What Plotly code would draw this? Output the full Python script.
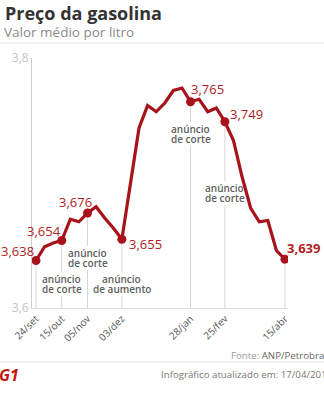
import pandas as pd
import plotly.graph_objects as go

# Weekly average gasoline price (R$/litre)
dates = ["2017-09-24", "2017-10-01", "2017-10-08", "2017-10-15", "2017-10-22",
         "2017-10-29", "2017-11-05", "2017-11-12", "2017-11-19", "2017-11-26",
         "2017-12-03", "2017-12-10", "2017-12-17", "2017-12-24", "2017-12-31",
         "2018-01-07", "2018-01-14", "2018-01-21", "2018-01-28", "2018-02-04",
         "2018-02-11", "2018-02-18", "2018-02-25", "2018-03-04", "2018-03-11",
         "2018-03-18", "2018-03-25", "2018-04-01", "2018-04-08", "2018-04-15"]
prices = [3.638, 3.649, 3.652, 3.654, 3.671,
          3.669, 3.676, 3.681, 3.672, 3.664,
          3.655, 3.700, 3.744, 3.762, 3.757,
          3.764, 3.774, 3.776, 3.765, 3.767,
          3.757, 3.760, 3.749, 3.734, 3.705,
          3.680, 3.669, 3.670, 3.646, 3.639]

# Highlighted weeks and their x tick labels
key_dates = ["2017-09-24", "2017-10-15", "2017-11-05", "2017-12-03",
             "2018-01-28", "2018-02-25", "2018-04-15"]
key_labels = ["24/set", "15/out", "05/nov", "03/dez", "28/jan", "25/fev", "15/abr"]

# Event notes (date, first line, second line)
event_dates = ["2017-10-15", "2017-11-05", "2017-12-03", "2018-01-28", "2018-02-25"]
event_line1 = ["anúncio", "anúncio", "anúncio", "anúncio", "anúncio"]
event_line2 = ["de corte", "de corte", "de aumento", "de corte", "de corte"]

y_ticks = [3.6, 3.8]
y_tick_text = ["3,6", "3,8"]

RED = "#a8121a"
LABEL_RED = "#b01e25"
FONT = "Open Sans, Liberation Sans, sans-serif"
NARROW = "Liberation Sans Narrow, Open Sans, sans-serif"

# plot-area geometry in pixels
FIG_W, FIG_H = 324, 400
L, R, T, B = 32, 36, 58, 92
W = FIG_W - L - R
H = FIG_H - T - B


def px_x(p):
    return (p - L) / W


def px_y(p):
    return (FIG_H - B - p) / H


def px_to_val(p):
    # vertical pixel -> price on the y axis
    return y_ticks[0] + (y_ticks[1] - y_ticks[0]) * px_y(p)


price_of = dict(zip(dates, prices))
key_vals = [price_of[d] for d in key_dates]

# vertical pixel centres of the two lines of each event note
event_y = {
    "2017-10-15": (279, 289),
    "2017-11-05": (253, 263),
    "2017-12-03": (279, 289),
    "2018-01-28": (129, 139),
    "2018-02-25": (188, 198),
}

fig = go.Figure()
fig.add_trace(go.Scatter(
    x=dates, y=prices, mode="lines",
    line=dict(color=RED, width=3.2, shape="linear"),
    hoverinfo="skip", showlegend=False,
))
fig.add_trace(go.Scatter(
    x=key_dates, y=key_vals, mode="markers",
    marker=dict(color=RED, size=9),
    hoverinfo="skip", showlegend=False,
))

shapes = []
# drop lines from the highlighted points to the baseline, broken around the notes
for d, v in zip(key_dates, key_vals):
    segments = [(v, y_ticks[0])]
    if d in event_y:
        y1, y2 = event_y[d]
        segments = [(v, px_to_val(y1 - 7)), (px_to_val(y2 + 7), y_ticks[0])]
    for a, b in segments:
        shapes.append(dict(type="line", xref="x", yref="y", x0=d, x1=d, y0=a, y1=b,
                           line=dict(color="#d6d6d6", width=1), layer="below"))
# header and footer rules
shapes.append(dict(type="line", xref="paper", yref="paper", x0=px_x(0), x1=px_x(FIG_W),
                   y0=px_y(43), y1=px_y(43), line=dict(color="#e2e2e2", width=1)))
shapes.append(dict(type="line", xref="paper", yref="paper", x0=px_x(0), x1=px_x(FIG_W),
                   y0=px_y(362), y1=px_y(362), line=dict(color="#e2e2e2", width=1)))

annotations = []

# value labels next to the highlighted points
label_pos = {
    "2017-09-24": dict(xanchor="right", xshift=-1, yshift=10, bold=False),
    "2017-10-15": dict(xanchor="right", xshift=0, yshift=10, bold=False),
    "2017-11-05": dict(xanchor="right", xshift=5, yshift=11, bold=False),
    "2017-12-03": dict(xanchor="left", xshift=6, yshift=-5, bold=False),
    "2018-01-28": dict(xanchor="left", xshift=-1, yshift=13, bold=False),
    "2018-02-25": dict(xanchor="left", xshift=4, yshift=8, bold=False),
    "2018-04-15": dict(xanchor="left", xshift=1, yshift=11, bold=True),
}
for d, v in zip(key_dates, key_vals):
    p = label_pos[d]
    txt = f"{v:.3f}".replace(".", ",")
    if p["bold"]:
        txt = f"<b>{txt}</b>"
    annotations.append(dict(
        x=d, y=v, xref="x", yref="y", text=txt, showarrow=False,
        xanchor=p["xanchor"], yanchor="middle", xshift=p["xshift"], yshift=p["yshift"],
        font=dict(family=NARROW, size=13, color=LABEL_RED), borderpad=0,
    ))

# event notes
for d, t1, t2 in zip(event_dates, event_line1, event_line2):
    y1, y2 = event_y[d]
    for txt, yy in ((t1, y1), (t2, y2)):
        annotations.append(dict(
            x=d, y=px_y(yy), xref="x", yref="paper", text=txt, showarrow=False,
            xanchor="center", yanchor="middle", borderpad=0,
            font=dict(family=FONT, size=10, color="#606060", weight=600),
        ))

# header
annotations.append(dict(x=px_x(3), y=px_y(13), xref="paper", yref="paper",
                        text="<b>Preço da gasolina</b>", showarrow=False,
                        xanchor="left", yanchor="middle",
                        font=dict(family=FONT, size=18, color="#333333")))
annotations.append(dict(x=px_x(2), y=px_y(32), xref="paper", yref="paper",
                        text="Valor médio por litro", showarrow=False,
                        xanchor="left", yanchor="middle",
                        font=dict(family=FONT, size=13.5, color="#8a8a8a")))

# footer
annotations.append(dict(x=px_x(229), y=px_y(355), xref="paper", yref="paper",
                        text="<span style='color:#9a9a9a'>Fonte:</span> ANP/Petrobras",
                        showarrow=False, xanchor="left", yanchor="middle",
                        font=dict(family=FONT, size=9.7, color="#666666")))
annotations.append(dict(x=px_x(159), y=px_y(374), xref="paper", yref="paper",
                        text="Infográfico atualizado em: 17/04/2018",
                        showarrow=False, xanchor="left", yanchor="middle",
                        font=dict(family=FONT, size=9.7, color="#777777")))
annotations.append(dict(x=px_x(-3), y=px_y(375), xref="paper", yref="paper",
                        text="<b><i>G1</i></b>", showarrow=False,
                        xanchor="left", yanchor="middle",
                        font=dict(family=FONT, size=16, color="#c4170c")))

x_start = pd.Timestamp(dates[0]) - pd.Timedelta(days=3.26)
x_end = pd.Timestamp(dates[-1]) + pd.Timedelta(days=2.45)

fig.update_layout(
    width=FIG_W, height=FIG_H,
    margin=dict(l=L, r=R, t=T, b=B, pad=0),
    paper_bgcolor="white", plot_bgcolor="white",
    showlegend=False,
    shapes=shapes, annotations=annotations,
    xaxis=dict(
        type="date", range=[x_start, x_end],
        tickmode="array", tickvals=key_dates, ticktext=key_labels,
        tickangle=-45, ticks="", showgrid=False, zeroline=False,
        showline=True, linecolor="#dddddd", linewidth=1,
        tickfont=dict(family=FONT, size=10, color="#555555"),
    ),
    yaxis=dict(
        range=[y_ticks[0], y_ticks[1]],
        tickmode="array", tickvals=y_ticks, ticktext=y_tick_text,
        ticks="inside", ticklen=4, tickcolor="#cccccc",
        showgrid=False, zeroline=False,
        showline=True, linecolor="#cccccc", linewidth=1,
        tickfont=dict(family=FONT, size=12, color="#c4c4c4"),
    ),
)

fig.write_html("out.html")
